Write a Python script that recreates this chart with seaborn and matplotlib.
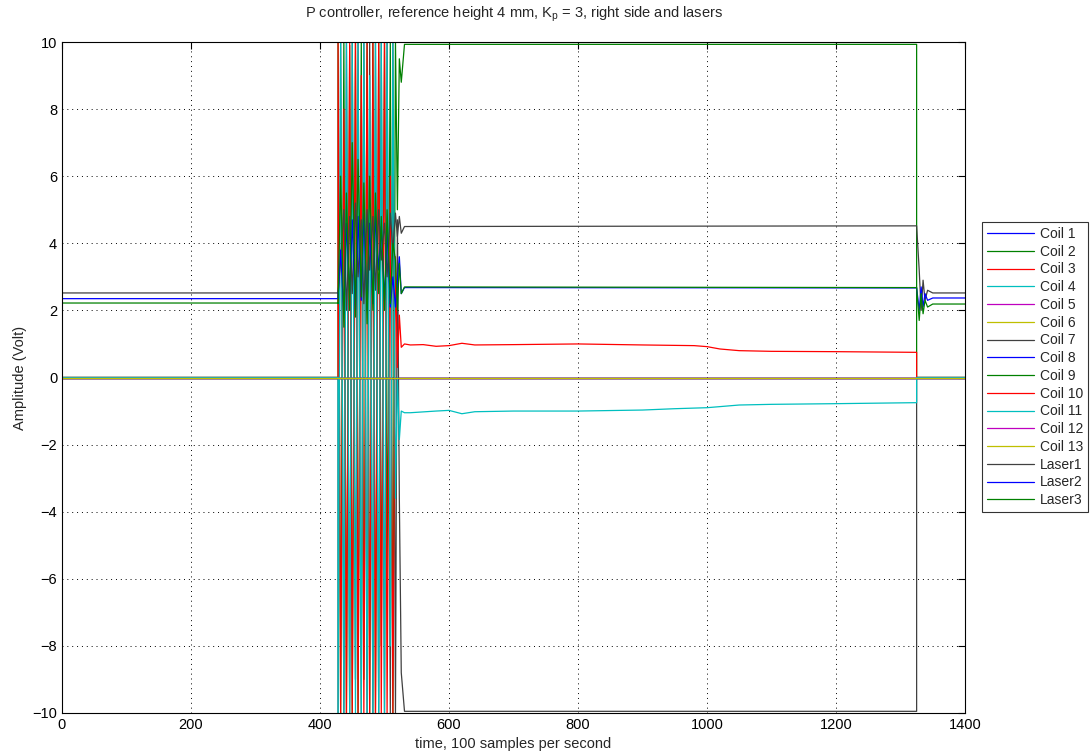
import numpy as np
import pandas as pd
import matplotlib
matplotlib.use("Agg")
import matplotlib.pyplot as plt
import seaborn as sns

# ---------------------------------------------------------
# Data
# ---------------------------------------------------------
series_names = ["Coil 1", "Coil 2", "Coil 3", "Coil 4", "Coil 5", "Coil 6", "Coil 7",
                "Coil 8", "Coil 9", "Coil 10", "Coil 11", "Coil 12", "Coil 13",
                "Laser1", "Laser2", "Laser3"]

# MATLAB default colour order: b g r c m y k
colors = ["#0000FF", "#008000", "#FF0000", "#00BFBF", "#BF00BF", "#BFBF00", "#404040",
          "#0000FF", "#008000", "#FF0000", "#00BFBF", "#BF00BF", "#BFBF00",
          "#404040", "#0000FF", "#008000"]

# time stamps of the unstable (oscillating) phase
osc_t = [428, 432, 437, 441, 446, 450, 455, 459, 464, 468, 473, 477,
         482, 486, 491, 495, 500, 504, 509, 513, 517, 520, 523, 526, 531]

coil7_osc = [-10, 10, -10, 10, -10, 10, -9, 10, -10, 10, -10, 10,
             -10, 10, -10, 10, -10, 10, -10, 10, -10, 4.7, -3.6, -8.8, -9.95]
coil9_osc = [10, -10, 10, -10, 9.9, -10, 10, -10, 10, -9, 10, -10,
             10, -10, 10, -8, 10, -6, 10, -10, 10, 5, 9.5, 8.8, 9.93]
coil10_osc = [10, -10, 8, -10, 10, -10, 10, -10, 9, -10, 10, -10,
              10, -10, 10, -10, 10, -10, 6, -10, 3.6, 0.3, 1.86, 0.9, 1.0]
coil11_osc = [-10, 10, -10, 10, -10, 10, -10, 10, -10, 10, -10, 9,
              -10, 10, -10, 10, -10, 10, -8, 10, -3.6, 0.0, -1.85, -1.0, -1.05]
laser1_osc = [2.5, 3.5, 5.0, 2.0, 4.8, 2.5, 5.2, 3.0, 4.7, 2.2, 5.0, 3.2,
              4.8, 2.6, 5.0, 3.5, 4.6, 3.0, 4.9, 3.8, 4.9, 4.2, 4.8, 4.3, 4.5]
laser2_osc = [2.4, 3.8, 1.9, 4.6, 2.5, 4.7, 2.0, 4.8, 2.3, 4.9, 2.0, 4.6,
              2.2, 4.8, 3.2, 4.5, 2.3, 4.4, 2.1, 3.0, 2.1, 2.9, 3.6, 2.5, 2.68]
laser3_osc = [2.2, 6.0, 1.5, 5.5, 2.0, 7.0, 1.8, 6.5, 2.4, 5.8, 1.6, 6.0,
              2.0, 5.5, 2.5, 4.8, 2.0, 5.0, 2.2, 4.0, 3.5, 2.0, 3.4, 2.5, 2.7]

# levelled phase (controller holding) and drop at switch-off
red_t = [540, 560, 580, 600, 620, 640, 700, 800, 900, 980, 1000, 1020, 1050, 1100, 1200, 1325]
red_v = [0.97, 0.98, 0.93, 0.95, 1.02, 0.97, 0.98, 1.0, 0.97, 0.95, 0.92, 0.85, 0.8, 0.78, 0.77, 0.75]
cyan_t = [540, 580, 600, 620, 640, 700, 800, 900, 950, 1000, 1050, 1100, 1200, 1325]
cyan_v = [-1.05, -1.0, -0.98, -1.08, -1.02, -1.0, -1.0, -0.97, -0.93, -0.9, -0.82, -0.8, -0.78, -0.75]

off_t = 1325
end_t = 1400

laser_pre = [2.52, 2.35, 2.22]
laser_hold = [4.52, 2.67, 2.68]
laser_tail_t = [1329, 1332, 1335, 1338, 1342, 1350, 1400]
laser1_tail = [3.2, 2.0, 2.9, 2.3, 2.6, 2.52, 2.52]
laser2_tail = [2.0, 2.7, 2.1, 2.5, 2.3, 2.37, 2.37]
laser3_tail = [1.7, 2.5, 1.9, 2.3, 2.1, 2.19, 2.19]


def build_frame():
    rows = []

    def add(name, ts, vs):
        for t, v in zip(ts, vs):
            rows.append((name, t, v))

    for name in series_names:
        if name == "Coil 7":
            add(name, [0, 428], [0, 0])
            add(name, osc_t, coil7_osc)
            add(name, [off_t, off_t, end_t], [coil7_osc[-1], 0, 0])
        elif name == "Coil 9":
            add(name, [0, 428], [0, 0])
            add(name, osc_t, coil9_osc)
            add(name, [off_t, off_t, end_t], [coil9_osc[-1], 0, 0])
        elif name == "Coil 10":
            add(name, [0, 428], [0, 0])
            add(name, osc_t, coil10_osc)
            add(name, red_t, red_v)
            add(name, [off_t, end_t], [0, 0])
        elif name == "Coil 11":
            add(name, [0, 428], [0, 0])
            add(name, osc_t, coil11_osc)
            add(name, cyan_t, cyan_v)
            add(name, [off_t, end_t], [0, 0])
        elif name.startswith("Laser"):
            k = int(name[-1]) - 1
            osc = [laser1_osc, laser2_osc, laser3_osc][k]
            tail = [laser1_tail, laser2_tail, laser3_tail][k]
            add(name, [0, 428], [laser_pre[k], laser_pre[k]])
            add(name, osc_t, osc)
            add(name, [off_t], [laser_hold[k]])
            add(name, laser_tail_t, tail)
        else:
            add(name, [0, end_t], [0, 0])

    return pd.DataFrame(rows, columns=["series", "t", "v"])


def main():
    df = build_frame()

    sns.set_style("white")
    plt.rcParams["font.family"] = ["Liberation Sans", "DejaVu Sans"]

    fig = plt.figure(figsize=(10.91, 7.55), dpi=100)
    ax = fig.add_axes([62 / 1091, 42 / 755, 903 / 1091, 671 / 755])

    sns.lineplot(data=df, x="t", y="v", hue="series", hue_order=series_names,
                 palette=colors, estimator=None, sort=False, linewidth=0.9,
                 ax=ax, legend=False)

    ax.set_xlim(0, 1400)
    ax.set_ylim(-10, 10)
    ax.set_xticks(range(0, 1401, 200))
    ax.set_yticks(range(-10, 11, 2))
    ax.grid(True, color="black", linestyle=(0, (1, 4)), linewidth=0.7)
    ax.tick_params(direction="in", length=5, width=0.8, top=True, right=True,
                   labelsize=10.5, colors="black")
    for sp in ax.spines.values():
        sp.set_visible(True)
        sp.set_color("black")
        sp.set_linewidth(0.8)

    ax.set_title("P controller, reference height 4 mm, K$_\\mathregular{p}$ = 3, right side and lasers",
                 fontsize=10.5, pad=18)
    ax.set_xlabel("time, 100 samples per second", fontsize=10.5, labelpad=4)
    ax.set_ylabel("Amplitude (Volt)", fontsize=10.5, labelpad=4)

    handles = [plt.Line2D([], [], color=c, linewidth=0.9) for c in colors]
    leg = fig.legend(handles, series_names, loc="upper left",
                     bbox_to_anchor=(982 / 1091, 1 - 222 / 755),
                     fontsize=10, frameon=True, fancybox=False, shadow=False,
                     handlelength=3.4, labelspacing=0.27, borderpad=0.35,
                     handletextpad=0.4, borderaxespad=0)
    leg.get_frame().set_edgecolor("black")
    leg.get_frame().set_linewidth(0.8)

    fig.savefig("out.png", dpi=100)
    plt.close(fig)


if __name__ == "__main__":
    main()
